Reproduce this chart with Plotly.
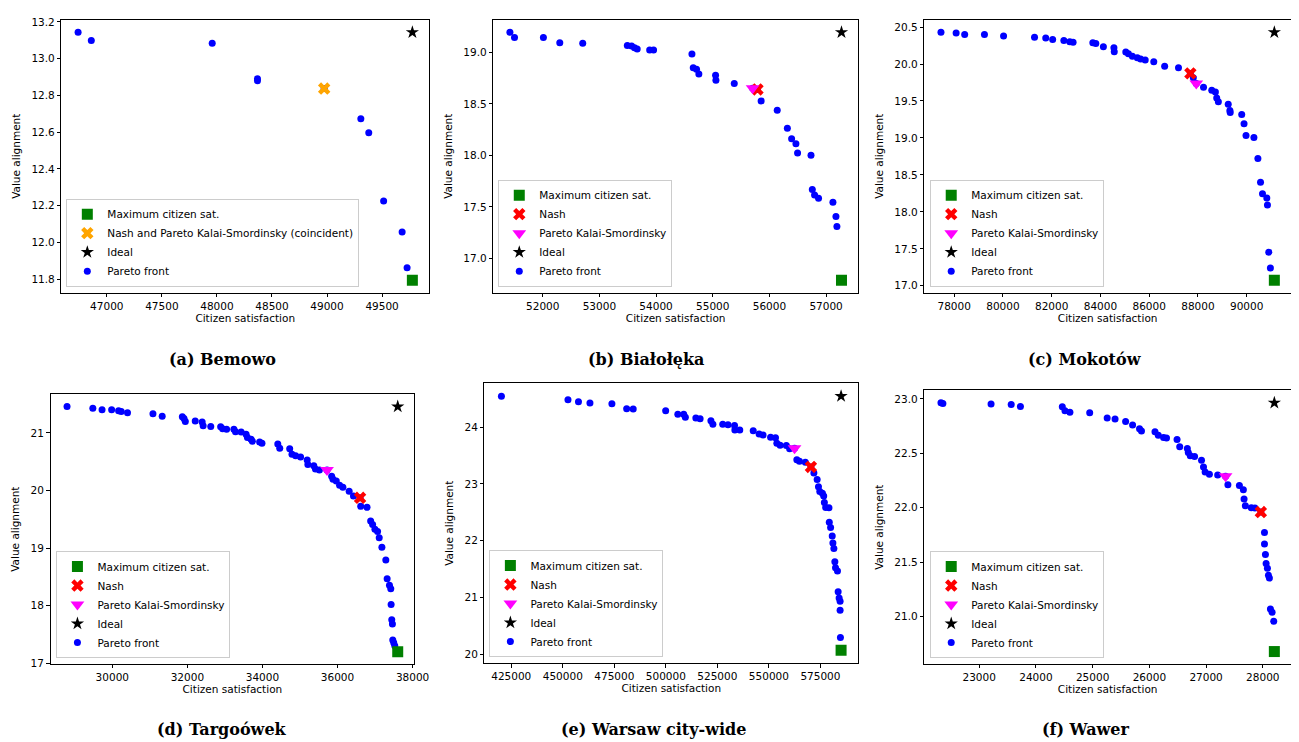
import plotly.graph_objects as go

# ---------------- DATA ----------------
# (a) Bemowo
bem_pareto_x = [46739, 46859, 47957, 48368, 48368, 48974, 49307, 49379, 49514, 49682, 49727, 49775]
bem_pareto_y = [13.143, 13.098, 13.084, 12.891, 12.880, 12.837, 12.673, 12.596, 12.226, 12.057, 11.863, 11.795]
bem_maxsat = (49775, 11.795)
bem_nash_ks = (48974, 12.837)
bem_ideal = (49775, 13.143)

# (b) Białołęka
bia_pareto_x = [51421, 51502, 52012, 52301, 52706, 53493, 53568, 53620, 53667, 53887, 53956, 54633,
                54656, 54714, 54755, 55050, 55056, 55380, 55704, 55790, 55854, 56138, 56317, 56392,
                56468, 56497, 56734, 56757, 56797, 56867, 57121, 57174, 57191, 57272]
bia_pareto_y = [19.195, 19.144, 19.144, 19.093, 19.089, 19.067, 19.061, 19.045, 19.032, 19.022, 19.022, 18.984,
                18.850, 18.837, 18.789, 18.777, 18.729, 18.697, 18.652, 18.640, 18.528, 18.439, 18.263, 18.161,
                18.113, 18.024, 18.002, 17.670, 17.616, 17.584, 17.545, 17.408, 17.309, 16.789]
bia_maxsat = (57272, 16.789)
bia_nash = (55790, 18.640)
bia_ks = (55704, 18.652)
bia_ideal = (57272, 19.195)

# (c) Mokotów
mok_pareto_x = [77459, 78081, 78432, 79243, 80027, 81297, 81757, 82041, 82500, 82743, 82879, 83689,
                83811, 84122, 84554, 84568, 85041, 85149, 85311, 85514, 85649, 85838, 86189, 86635,
                87203, 87690, 87811, 87933, 88230, 88568, 88717, 88771, 88838, 89243, 89311, 89324,
                89797, 89892, 89973, 90297, 90460, 90568, 90649, 90825, 90852, 90906, 90973, 91135]
mok_pareto_y = [20.429, 20.420, 20.398, 20.398, 20.380, 20.362, 20.353, 20.331, 20.318, 20.300, 20.295, 20.287,
                20.278, 20.233, 20.220, 20.166, 20.162, 20.140, 20.104, 20.086, 20.069, 20.055, 20.029, 19.971,
                19.949, 19.873, 19.815, 19.735, 19.686, 19.646, 19.620, 19.539, 19.490, 19.455, 19.370, 19.344,
                19.317, 19.193, 19.032, 19.006, 18.721, 18.401, 18.245, 18.188, 18.094, 17.454, 17.240, 17.076]
mok_maxsat = (91135, 17.076)
mok_nash = (87690, 19.873)
mok_ks = (87933, 19.735)
mok_ideal = (91135, 20.429)

# (d) Targówek
tar_pareto_x = [28794, 29481, 29727, 29982, 30167, 30238, 30405, 31083, 31329, 31866, 31910, 31945,
                32209, 32394, 32420, 32623, 32887, 32940, 33045, 33239, 33283, 33433, 33564, 33600,
                33697, 33732, 33925, 33987, 34409, 34461, 34726, 34787, 34884, 35016, 35192, 35210,
                35368, 35412, 35518, 35720, 35844, 35879, 35967, 36055, 36143, 36310, 36425, 36601,
                36618, 36786, 36883, 36935, 36997, 37067, 37111, 37182, 37287, 37322, 37384, 37419,
                37428, 37445, 37463, 37472, 37498, 37525, 37604]
tar_pareto_y = [21.459, 21.430, 21.402, 21.402, 21.385, 21.373, 21.350, 21.333, 21.293, 21.281, 21.253, 21.201,
                21.207, 21.189, 21.126, 21.115, 21.109, 21.075, 21.063, 21.063, 21.023, 21.017, 20.977, 20.920,
                20.891, 20.857, 20.845, 20.822, 20.811, 20.736, 20.725, 20.633, 20.604, 20.581, 20.529, 20.455,
                20.432, 20.374, 20.357, 20.357, 20.248, 20.197, 20.168, 20.093, 20.059, 19.990, 19.904, 19.875,
                19.726, 19.709, 19.473, 19.410, 19.330, 19.290, 19.181, 19.014, 18.796, 18.469, 18.354, 18.297,
                18.021, 17.758, 17.683, 17.407, 17.356, 17.304, 17.201]
tar_maxsat = (37604, 17.201)
tar_nash = (36601, 19.875)
tar_ks = (35720, 20.357)
tar_ideal = (37604, 21.459)

# (e) Warsaw city-wide
war_pareto_x = [420228, 452519, 457609, 463177, 473834, 480993, 484174, 499922, 505808, 508671, 509466,
                514557, 516625, 521874, 522828, 527600, 530145, 533327, 533486, 535872, 542394, 545257,
                547166, 550824, 553211, 553847, 555438, 558460, 560051, 562437, 563551, 564823, 567687,
                570391, 571823, 573414, 574050, 574686, 575959, 576595, 576913, 577550, 579140, 579299,
                579936, 580731, 581049, 581526, 582003, 582321, 583276, 583594, 584071, 584548, 584548,
                584707, 585025]
war_pareto_y = [24.545, 24.481, 24.446, 24.423, 24.412, 24.325, 24.319, 24.290, 24.226, 24.226, 24.174,
                24.162, 24.145, 24.110, 24.052, 24.052, 24.041, 24.029, 23.948, 23.948, 23.936, 23.878,
                23.861, 23.820, 23.814, 23.716, 23.681, 23.675, 23.617, 23.629, 23.426, 23.397, 23.380,
                23.299, 23.194, 23.078, 22.951, 22.864, 22.835, 22.788, 22.672, 22.586, 22.580, 22.325,
                22.232, 22.081, 21.959, 21.861, 21.629, 21.525, 21.467, 21.101, 20.991, 20.933, 20.777,
                20.296, 20.070]
war_maxsat = (585025, 20.070)
war_nash = (570391, 23.299)
war_ks = (562437, 23.629)
war_ideal = (585025, 24.545)

# (f) Wawer
waw_pareto_x = [22326, 22360, 23209, 23564, 23727, 24465, 24512, 24599, 24948, 25256, 25395, 25581,
                25704, 25826, 25861, 26099, 26157, 26250, 26302, 26488, 26535, 26669, 26686, 26721,
                26797, 26919, 26954, 26983, 27058, 27204, 27343, 27384, 27587, 27657, 27669, 27692,
                27797, 27861, 27965, 28029, 28029, 28046, 28058, 28081, 28099, 28116, 28134, 28163,
                28192, 28203]
waw_pareto_y = [22.964, 22.957, 22.954, 22.948, 22.930, 22.927, 22.891, 22.878, 22.872, 22.824, 22.815, 22.793,
                22.760, 22.726, 22.705, 22.699, 22.666, 22.644, 22.641, 22.626, 22.559, 22.544, 22.508, 22.477,
                22.471, 22.435, 22.374, 22.328, 22.307, 22.301, 22.289, 22.210, 22.204, 22.164, 22.079, 22.018,
                22.000, 21.997, 21.960, 21.772, 21.666, 21.571, 21.486, 21.444, 21.380, 21.353, 21.070, 21.040,
                20.957, 20.678]
waw_maxsat = (28203, 20.678)
waw_nash = (27965, 21.960)
waw_ks = (27343, 22.289)
waw_ideal = (28203, 22.964)

captions = ["(a) Bemowo", "(b) Białołęka", "(c) Mokotów",
            "(d) Targoówek", "(e) Warsaw city-wide", "(f) Wawer"]

# ---------------- LAYOUT ----------------
W, H = 1299, 742
FONT = "DejaVu Sans"
FS = 10.5


def fx(px):
    return px / W


def fy(py):
    return 1 - py / H


panels = [
    dict(px=bem_pareto_x, py=bem_pareto_y, maxsat=bem_maxsat, nash=None, ks=None, both=bem_nash_ks, ideal=bem_ideal,
         box=(54, 8, 426, 284), leg=(59, 278), xt=(47000, 500), yt=(11.8, 0.2), yfmt=".1f", cap=(217, 352)),
    dict(px=bia_pareto_x, py=bia_pareto_y, maxsat=bia_maxsat, nash=bia_nash, ks=bia_ks, both=None, ideal=bia_ideal,
         box=(491, 8, 860, 284), leg=(496, 278), xt=(52000, 1000), yt=(17.0, 0.5), yfmt=".1f", cap=(645, 352)),
    dict(px=mok_pareto_x, py=mok_pareto_y, maxsat=mok_maxsat, nash=mok_nash, ks=mok_ks, both=None, ideal=mok_ideal,
         box=(927, 8, 1298, 284), leg=(933, 278), xt=(78000, 2000), yt=(17.0, 0.5), yfmt=".1f", cap=(1090, 352)),
    dict(px=tar_pareto_x, py=tar_pareto_y, maxsat=tar_maxsat, nash=tar_nash, ks=tar_ks, both=None, ideal=tar_ideal,
         box=(43, 387, 411, 660), leg=(49, 654), xt=(30000, 2000), yt=(17, 1), yfmt="d", cap=(217, 726)),
    dict(px=war_pareto_x, py=war_pareto_y, maxsat=war_maxsat, nash=war_nash, ks=war_ks, both=None, ideal=war_ideal,
         box=(482, 376, 860, 659), leg=(487, 653), xt=(425000, 25000), yt=(20, 1), yfmt="d", cap=(653, 726)),
    dict(px=waw_pareto_x, py=waw_pareto_y, maxsat=waw_maxsat, nash=waw_nash, ks=waw_ks, both=None, ideal=waw_ideal,
         box=(927, 383, 1298, 660), leg=(933, 654), xt=(23000, 1000), yt=(21.0, 0.5), yfmt=".1f", cap=(1090, 726)),
]

fig = go.Figure()
layout = dict(
    width=W, height=H, autosize=False,
    margin=dict(l=0, r=0, t=0, b=0),
    paper_bgcolor="white", plot_bgcolor="white",
    font=dict(family=FONT, size=FS, color="black"),
    annotations=[],
)

for i, p in enumerate(panels):
    n = i + 1
    xa = "x" if n == 1 else f"x{n}"
    ya = "y" if n == 1 else f"y{n}"
    lg = "legend" if n == 1 else f"legend{n}"
    common = dict(xaxis=xa, yaxis=ya, legend=lg, mode="markers", hoverinfo="skip")

    fig.add_trace(go.Scatter(x=p["px"], y=p["py"], name="Pareto front", legendrank=5,
                             marker=dict(color="#0000ff", size=7, symbol="circle", line=dict(width=0)), **common))
    fig.add_trace(go.Scatter(x=[p["maxsat"][0]], y=[p["maxsat"][1]], name="Maximum citizen sat.", legendrank=1,
                             marker=dict(color="#008000", size=11, symbol="square", line=dict(width=0)), **common))
    if p["both"] is not None:
        fig.add_trace(go.Scatter(x=[p["both"][0]], y=[p["both"][1]],
                                 name="Nash and Pareto Kalai-Smordinsky (coincident)", legendrank=2,
                                 marker=dict(color="#ffa500", size=11, symbol="x", line=dict(width=0)), **common))
    else:
        fig.add_trace(go.Scatter(x=[p["nash"][0]], y=[p["nash"][1]], name="Nash", legendrank=2,
                                 marker=dict(color="#ff0000", size=11, symbol="x", line=dict(width=0)), **common))
        fig.add_trace(go.Scatter(x=[p["ks"][0]], y=[p["ks"][1]], name="Pareto Kalai-Smordinsky", legendrank=3,
                                 marker=dict(color="#ff00ff", size=12, symbol="triangle-down",
                                             line=dict(width=0)), **common))
    fig.add_trace(go.Scatter(x=[p["ideal"][0]], y=[p["ideal"][1]], name="Ideal", legendrank=4,
                             marker=dict(color="black", size=10, symbol="star", line=dict(width=0)), **common))

    allx = list(p["px"]) + [p["maxsat"][0], p["ideal"][0]]
    ally = list(p["py"]) + [p["maxsat"][1], p["ideal"][1]]
    xlo, xhi = min(allx), max(allx)
    ylo, yhi = min(ally), max(ally)
    xpad = 0.05 * (xhi - xlo)
    ypad = 0.05 * (yhi - ylo)

    l, t, r, b = p["box"]
    axis_common = dict(showline=True, linecolor="black", linewidth=1, mirror=True,
                       ticks="outside", ticklen=3.5, tickwidth=1, tickcolor="black",
                       showgrid=False, zeroline=False,
                       tickfont=dict(family=FONT, size=FS, color="black"))
    layout["xaxis" if n == 1 else f"xaxis{n}"] = dict(
        domain=[fx(l), fx(r)], anchor=ya, range=[xlo - xpad, xhi + xpad],
        tick0=p["xt"][0], dtick=p["xt"][1], tickformat="d",
        title=dict(text="Citizen satisfaction", standoff=3, font=dict(family=FONT, size=FS)),
        **axis_common)
    layout["yaxis" if n == 1 else f"yaxis{n}"] = dict(
        domain=[fy(b), fy(t)], anchor=xa, range=[ylo - ypad, yhi + ypad],
        tick0=p["yt"][0], dtick=p["yt"][1], tickformat=p["yfmt"],
        title=dict(text="Value alignment", standoff=8, font=dict(family=FONT, size=FS)),
        **axis_common)
    layout[lg] = dict(
        x=fx(p["leg"][0]), y=fy(p["leg"][1]), xanchor="left", yanchor="bottom",
        xref="paper", yref="paper",
        bgcolor="rgba(255,255,255,0.8)", bordercolor="#cccccc", borderwidth=1,
        font=dict(family=FONT, size=FS, color="black"),
        itemsizing="trace", tracegroupgap=0,
    )
    layout["annotations"].append(dict(
        text=f"<b>{captions[i]}</b>", x=fx(p["cap"][0]), y=fy(p["cap"][1]),
        xref="paper", yref="paper", xanchor="center", yanchor="middle", showarrow=False,
        font=dict(family="DejaVu Serif", size=16, color="black")))

fig.update_layout(**layout)
fig.write_html("out.html")
